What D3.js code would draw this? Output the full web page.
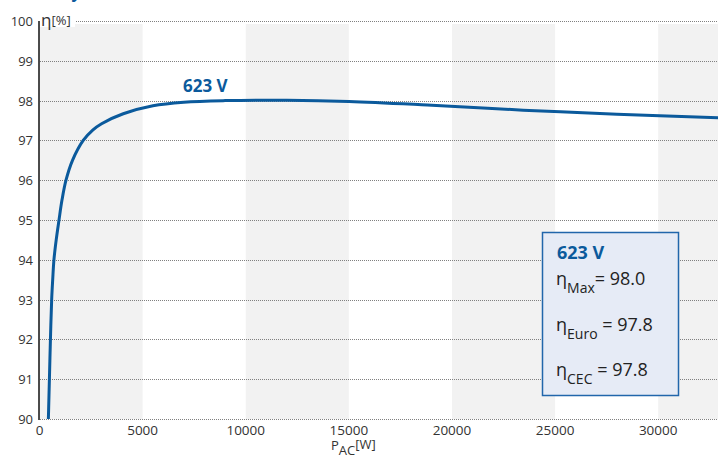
<!DOCTYPE html>
<meta charset="utf-8">
<body style="margin:0;background:#fff">
<script src="https://d3js.org/d3.v7.min.js"></script>
<div id="my_dataviz"></div>
<script>
    // data
    var powerW = [430, 480, 530, 590, 640, 700, 810, 946, 1090, 1285, 1600, 2120, 2580, 3010, 4060, 5500, 7000, 9000, 12000, 15000, 18800, 23450, 28000, 33000];
    var etaPct = [90, 91, 92, 93, 93.5, 94, 94.5, 95, 95.5, 96, 96.5, 97, 97.26, 97.42, 97.67, 97.87, 97.96, 98.0, 98.01, 97.98, 97.89, 97.76, 97.66, 97.57];
    var xTicks = [0, 5000, 10000, 15000, 20000, 25000, 30000];
    var yTicks = [90, 91, 92, 93, 94, 95, 96, 97, 98, 99, 100];
    var bandStarts = [0, 10000, 20000, 30000];
    var voltageLabel = "623 V";
    var summaryNames = ["Max", "Euro", "CEC"];
    var summaryValues = ["98.0", "97.8", "97.8"];

    var width = 718, height = 457;
    var margin = {top: 21, right: 0, bottom: 38, left: 39.5};
    var blue = "#0b5a9c";

    var svg = d3.select("#my_dataviz")
        .append("svg")
            .attr("width", width)
            .attr("height", height)
            .style("font-family", "'Open Sans', 'Noto Sans', sans-serif");

    var x = d3.scaleLinear()
        .domain([0, 32900])
        .range([margin.left, width - margin.right]);
    var y = d3.scaleLinear()
        .domain([90, 100])
        .range([height - margin.bottom, margin.top]);

    // title, cut off at the very top of the picture
    svg.append("text")
        .attr("x", 4)
        .attr("y", -2)
        .attr("fill", blue)
        .style("font-size", "16px")
        .style("font-weight", "bold")
        .text("Efficiency curve");

    // alternating grey bands
    svg.selectAll("rect.band")
      .data(bandStarts)
      .enter()
      .append("rect")
        .attr("class", "band")
        .attr("x", function(d) { return x(d); })
        .attr("y", y(100) + 3)
        .attr("width", function(d) { return Math.min(x(d + 5000), width) - x(d); })
        .attr("height", y(90) - y(100) - 3)
        .attr("fill", "#f2f2f2");

    // dotted grid lines (whole pixels so the dots stay crisp)
    svg.selectAll("line.grid")
      .data(yTicks)
      .enter()
      .append("line")
        .attr("x1", 40)
        .attr("x2", width)
        .attr("y1", function(d) { return Math.round(y(d)) + 0.5; })
        .attr("y2", function(d) { return Math.round(y(d)) + 0.5; })
        .attr("stroke", "#808080")
        .attr("stroke-width", 1)
        .attr("stroke-dasharray", "1,1")
        .attr("shape-rendering", "crispEdges");

    // y labels
    svg.selectAll("text.ylab")
      .data(yTicks)
      .enter()
      .append("text")
        .attr("x", 33)
        .attr("y", function(d) { return y(d) + 5; })
        .attr("text-anchor", "end")
        .attr("fill", "#333")
        .style("font-size", "13px")
        .text(function(d) { return d; });

    // x labels
    svg.selectAll("text.xlab")
      .data(xTicks)
      .enter()
      .append("text")
        .attr("x", function(d) { return x(d); })
        .attr("y", 435)
        .attr("text-anchor", "middle")
        .attr("fill", "#333")
        .style("font-size", "13.5px")
        .text(function(d) { return d; });

    // left axis line
    svg.append("line")
        .attr("x1", margin.left - 0.5).attr("x2", margin.left - 0.5)
        .attr("y1", y(100)).attr("y2", y(90) + 1)
        .attr("stroke", "#111")
        .attr("stroke-width", 1.5);

    // axis titles
    svg.append("rect")
        .attr("x", 40).attr("y", 13).attr("width", 35).attr("height", 14)
        .attr("fill", "#fff");
    var yt = svg.append("text")
        .attr("x", 41)
        .attr("y", 26)
        .attr("fill", "#333");
    yt.append("tspan").style("font-size", "17px").text("η");
    yt.append("tspan").style("font-size", "13px").attr("dy", -1).text("[%]");

    var xt = svg.append("text")
        .attr("x", 331)
        .attr("y", 450)
        .attr("fill", "#333")
        .style("font-size", "13px");
    xt.append("tspan").text("P");
    xt.append("tspan").attr("dy", 5).text("AC");
    xt.append("tspan").attr("dy", -6).text("[W]");

    // efficiency curve
    var pts = powerW.map(function(p, i) { return [p, etaPct[i]]; });
    svg.append("path")
        .datum(pts)
        .attr("fill", "none")
        .attr("stroke", blue)
        .attr("stroke-width", 3)
        .attr("d", d3.line()
            .x(function(d) { return x(d[0]); })
            .y(function(d) { return y(d[1]); })
            .curve(d3.curveCatmullRom.alpha(0.5)));

    svg.append("text")
        .attr("x", 183)
        .attr("y", 92)
        .attr("fill", blue)
        .style("font-size", "17px")
        .style("font-weight", "bold")
        .text(voltageLabel);

    // summary box
    svg.append("rect")
        .attr("x", 542.5).attr("y", 232.5)
        .attr("width", 136).attr("height", 163)
        .attr("fill", "#e6ebf6")
        .attr("stroke", "#2166ab")
        .attr("stroke-width", 1.5);
    svg.append("text")
        .attr("x", 557)
        .attr("y", 259)
        .attr("fill", blue)
        .style("font-size", "18px")
        .style("font-weight", "bold")
        .text(voltageLabel);

    summaryNames.forEach(function(name, i) {
        var t = svg.append("text")
            .attr("x", 556)
            .attr("y", 285 + i * 45.5)
            .attr("fill", "#222")
            .style("font-size", "18px");
        t.append("tspan").text("η");
        t.append("tspan").attr("dy", 8).style("font-size", "14px").text(name);
        t.append("tspan").attr("dy", -8).text(name == "Max" ? "= " : " = ");
        t.append("tspan").text(summaryValues[i]);
    });
</script>
</body>
